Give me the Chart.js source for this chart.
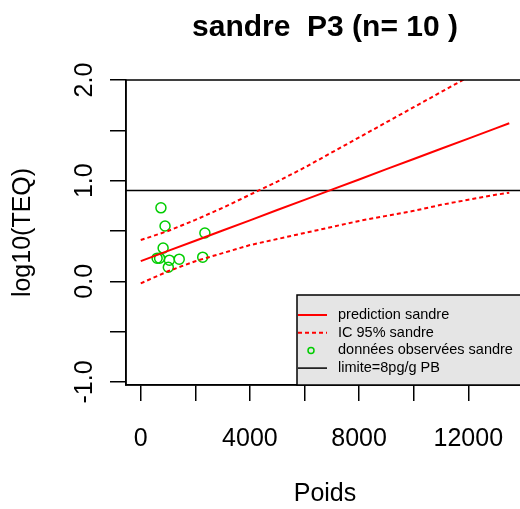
<!DOCTYPE html>
<html lang="fr">
<head>
<meta charset="UTF-8">
<title>sandre P3</title>
<script src="https://cdn.jsdelivr.net/npm/chart.js"></script>
<style>
  html, body { margin: 0; padding: 0; overflow: hidden; background: #fff; }
</style>
</head>
<body>
<canvas id="teqChart" width="540" height="509"></canvas>
<script>
// prediction curve and 95% band
const poidsGrid = [0, 1000, 2000, 3000, 4000, 5000, 6000, 7000, 8000, 9000, 10000, 11000, 12000, 13000, 13500];
const prediction = [0.200, 0.302, 0.403, 0.505, 0.606, 0.708, 0.809, 0.911, 1.012, 1.114, 1.215, 1.317, 1.418, 1.520, 1.570];
const icHaut = [0.41, 0.50, 0.61, 0.73, 0.86, 0.99, 1.13, 1.28, 1.43, 1.58, 1.73, 1.88, 2.03, 2.18, 2.26];
const icBas = [-0.02, 0.10, 0.20, 0.28, 0.36, 0.42, 0.48, 0.54, 0.60, 0.65, 0.70, 0.76, 0.81, 0.86, 0.88];

// observed fish
const obsPoids = [740, 890, 820, 600, 690, 1050, 1010, 1410, 2350, 2270];
const obsTeq = [0.73, 0.55, 0.33, 0.23, 0.23, 0.21, 0.14, 0.22, 0.48, 0.24];

const limite = 0.903; // log10(8 pg/g)

const xTicks = [0, 2000, 4000, 6000, 8000, 10000, 12000];
const xLabels = ['0', '', '4000', '', '8000', '', '12000'];
const yTicks = [-1, -0.5, 0, 0.5, 1, 1.5, 2];
const yLabels = ['-1.0', '', '0.0', '', '1.0', '', '2.0'];

const xMin = -540, xMax = 14040;
const yMin = -1.03, yMax = 2.0;

Chart.defaults.font.family = '"Liberation Sans", Arial, sans-serif';
Chart.defaults.color = '#000';

const pts = (xs, ys) => xs.map((x, i) => ({ x: x, y: ys[i] }));

// R style box + legend in the bottom right corner
const rPlot = {
    id: 'rPlot',
    afterDatasetsDraw(chart) {
        const { ctx, chartArea: a } = chart;
        ctx.save();
        ctx.strokeStyle = '#000';
        ctx.lineWidth = 1.5;
        ctx.strokeRect(a.left, a.top, a.right - a.left, a.bottom - a.top);
        ctx.restore();
    },
    afterDraw(chart) {
        const { ctx, chartArea: a } = chart;
        const w = 227, h = 90;
        const x0 = a.right - w, y0 = a.bottom - h;
        ctx.save();
        ctx.fillStyle = '#e5e5e5';
        ctx.fillRect(x0, y0, w, h);
        ctx.strokeStyle = '#000';
        ctx.lineWidth = 1.5;
        ctx.strokeRect(x0, y0, w, h);
        ctx.font = '14.5px "Liberation Sans", Arial, sans-serif';
        ctx.textBaseline = 'middle';
        const items = chart.data.datasets.filter(d => !d.hideInLegend);
        items.forEach((d, i) => {
            const y = y0 + 20 + i * 17.7;
            if (d.showLine === false) {
                ctx.strokeStyle = d.borderColor;
                ctx.lineWidth = 1.5;
                ctx.setLineDash([]);
                ctx.beginPath();
                ctx.arc(x0 + 14, y, 3, 0, Math.PI * 2);
                ctx.stroke();
            } else {
                ctx.strokeStyle = d.borderColor;
                ctx.lineWidth = d.borderWidth;
                ctx.setLineDash(d.borderDash || []);
                ctx.beginPath();
                ctx.moveTo(x0 + 1, y);
                ctx.lineTo(x0 + 30, y);
                ctx.stroke();
            }
            ctx.setLineDash([]);
            ctx.fillStyle = '#000';
            ctx.fillText(d.label, x0 + 41, y);
        });
        ctx.restore();
    }
};

new Chart(document.getElementById('teqChart'), {
    type: 'scatter',
    data: {
        datasets: [
            {
                label: 'prediction sandre',
                data: pts(poidsGrid, prediction),
                showLine: true,
                borderColor: '#ff0000',
                borderWidth: 2,
                pointRadius: 0
            },
            {
                label: 'IC 95% sandre',
                data: pts(poidsGrid, icHaut),
                showLine: true,
                borderColor: '#ff0000',
                borderWidth: 2,
                borderDash: [4, 3],
                pointRadius: 0
            },
            {
                label: 'IC 95% sandre',
                hideInLegend: true,
                data: pts(poidsGrid, icBas),
                showLine: true,
                borderColor: '#ff0000',
                borderWidth: 2,
                borderDash: [4, 3],
                pointRadius: 0
            },
            {
                label: 'données observées sandre',
                data: pts(obsPoids, obsTeq),
                showLine: false,
                borderColor: 'rgb(0,205,0)',
                backgroundColor: 'rgba(0,0,0,0)',
                borderWidth: 1.5,
                pointRadius: 5
            },
            {
                label: 'limite=8pg/g PB',
                data: [{ x: xMin, y: limite }, { x: xMax, y: limite }],
                showLine: true,
                borderColor: '#000',
                borderWidth: 1.5,
                pointRadius: 0
            }
        ]
    },
    options: {
        responsive: false,
        animation: false,
        events: [],
        layout: { padding: { left: 0, right: 16, top: 0, bottom: 0 } },
        plugins: {
            legend: { display: false },
            tooltip: { enabled: false },
            title: {
                display: true,
                fullSize: false,
                text: 'sandre  P3 (n= 10 )',
                color: '#000',
                font: { size: 30, weight: 'bold' },
                padding: { top: 10, bottom: 34 }
            }
        },
        scales: {
            x: {
                type: 'linear',
                min: xMin,
                max: xMax,
                afterBuildTicks: s => { s.ticks = xTicks.map(v => ({ value: v })); },
                afterFit: s => { s.height = 124; },
                grid: { drawOnChartArea: false, tickLength: 16, color: '#000', lineWidth: 1.5 },
                border: { display: true, color: '#000', width: 1.5 },
                ticks: {
                    font: { size: 25 },
                    color: '#000',
                    padding: 23,
                    maxRotation: 0,
                    autoSkip: false,
                    callback: (v, i) => xLabels[i]
                },
                title: {
                    display: true,
                    text: 'Poids',
                    font: { size: 25 },
                    color: '#000',
                    padding: { top: -3, bottom: 0 }
                }
            },
            y: {
                min: yMin,
                max: yMax,
                afterBuildTicks: s => { s.ticks = yTicks.map(v => ({ value: v })); },
                afterFit: s => { s.width = 126; },
                grid: { drawOnChartArea: false, tickLength: 16, color: '#000', lineWidth: 1.5 },
                border: { display: true, color: '#000', width: 1.5 },
                ticks: {
                    font: { size: 25 },
                    color: '#000',
                    minRotation: 90,
                    maxRotation: 90,
                    crossAlign: 'center',
                    padding: 3,
                    autoSkip: false,
                    callback: (v, i) => yLabels[i]
                },
                title: {
                    display: true,
                    text: 'log10(TEQ)',
                    font: { size: 25 },
                    color: '#000',
                    padding: { top: 8, bottom: 0 }
                }
            }
        }
    },
    plugins: [rPlot]
});
</script>
</body>
</html>
